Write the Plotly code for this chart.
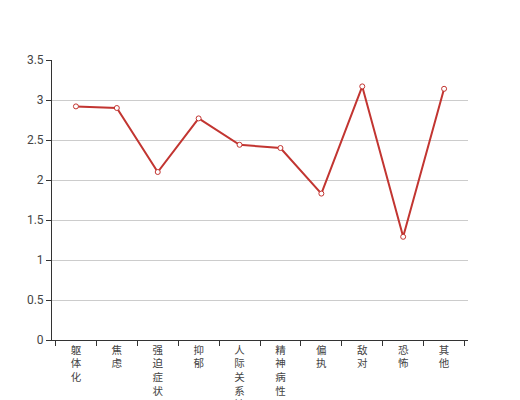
import plotly.graph_objects as go

categories = ["躯体化", "焦虑", "强迫症状", "抑郁", "人际关系敏感", "精神病性", "偏执", "敌对", "恐怖", "其他"]
values = [2.92, 2.90, 2.10, 2.77, 2.44, 2.40, 1.83, 3.17, 1.29, 3.14]
y_ticks = [0, 0.5, 1, 1.5, 2, 2.5, 3, 3.5]
y_labels = ["0", "0.5", "1", "1.5", "2", "2.5", "3", "3.5"]

vertical = ["<br>".join(list(c)) for c in categories]

fig = go.Figure()
fig.add_trace(go.Scatter(
    x=categories, y=values, mode="lines+markers",
    line=dict(color="#c23531", width=2),
    marker=dict(symbol="circle", size=5, color="white",
                line=dict(color="#c23531", width=1)),
    cliponaxis=False,
))
fig.update_layout(
    width=520, height=400,
    margin=dict(l=44, r=60, t=52, b=68),
    plot_bgcolor="white", paper_bgcolor="white",
    showlegend=False,
    font=dict(family="Roboto, 'Noto Sans CJK SC', sans-serif", size=12, color="#333"),
)
fig.update_xaxes(
    type="category", tickmode="array", tickvals=categories, ticktext=vertical,
    tickson="boundaries", ticks="outside", ticklen=5, tickcolor="#333",
    showline=True, linecolor="#333", linewidth=1, showgrid=False,
    tickfont=dict(family="'Noto Sans CJK SC', sans-serif", size=10.5, color="#444"),
    automargin=False, fixedrange=True,
)
fig.update_yaxes(
    range=[0, 3.5], tickmode="array", tickvals=y_ticks, ticktext=y_labels,
    ticks="outside", ticklen=5, tickcolor="#333",
    showline=True, linecolor="#333", linewidth=1,
    showgrid=True, gridcolor="#ccc", gridwidth=1, zeroline=False,
    tickfont=dict(size=12, color="#444"), automargin=False,
)
fig.write_html("out.html")
